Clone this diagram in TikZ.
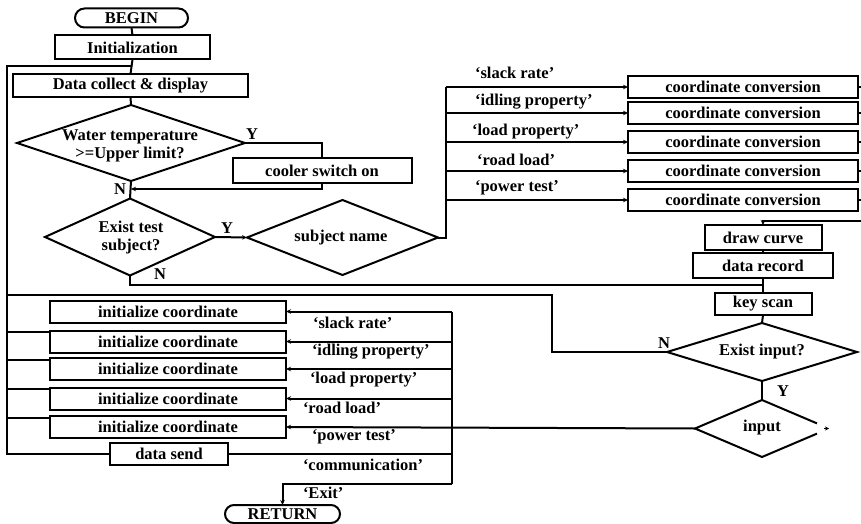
\documentclass[tikz,border=0pt]{standalone}
\usepackage{fontspec}
\setmainfont{Liberation Serif}
\usetikzlibrary{arrows.meta,shapes.geometric,shapes.misc,calc}
\begin{document}
\begin{tikzpicture}[x=1pt,y=-1pt,line width=2pt,
  every node/.style={font=\fontsize{16.5}{18}\selectfont\bfseries, inner sep=0pt, outer sep=0pt},
  box/.style={draw, rectangle},
  term/.style={draw, rounded rectangle, minimum height=19},
  dia/.style={diamond, draw, inner sep=0pt},
  lbl/.style={anchor=west},
  arr/.style={-{Stealth[length=5pt,width=4.5pt]}},
]
\useasboundingbox (0,0) rectangle (861,524);

% main column
\node[term, minimum width=113] (begin) at (131.5,18) {BEGIN};
\node[box, minimum width=155, minimum height=24] (init) at (132.5,47.5) {Initialization};
\node[box, minimum width=235, minimum height=23] (dc) at (130.5,85.5) {Data collect \& display};
\node[dia, minimum width=228, minimum height=76] (d1) at (131,143) {};
\node[align=center] (d1t) at (130,146) {Water temperature\\>=Upper limit?};
\node[box, minimum width=179, minimum height=25] (cool) at (322,170.5) {cooler switch on};
\node[dia, minimum width=170, minimum height=77] (d2) at (130,237) {};
\node[align=center] (d2t) at (131,238) {Exist test\\subject?};
\node[dia, minimum width=191, minimum height=75] (sn) at (342.5,237.5) {};
\node (snt) at (341,238) {subject name};

% coordinate conversion boxes
\foreach \i/\y in {1/87,2/113,3/142,4/171,5/200}{
  \node[box, minimum width=230, minimum height=22] (cc\i) at (743,\y) {coordinate conversion};
}
\node[lbl] (l1) at (475,73) {`slack rate'};
\node[lbl] (l2) at (475,102) {`idling property'};
\node[lbl] (l3) at (472,132) {`load property'};
\node[lbl] (l4) at (477,160) {`road load'};
\node[lbl] (l5) at (475,188) {`power test'};

\node[box, minimum width=117, minimum height=25] (dcurve) at (763,237.5) {draw curve};
\node[box, minimum width=140, minimum height=25] (drec) at (763,265.5) {data record};
\node[box, minimum width=97, minimum height=22] (kscan) at (763,304) {key scan};
\node[dia, minimum width=190, minimum height=58] (ei) at (762,352) {};
\node (eit) at (762,352) {Exist input?};
\node[diamond, minimum width=134, minimum height=57, inner sep=0pt] (inp) at (762,428.5) {};
\node (inpt) at (762,428) {input};

% initialize coordinate boxes
\foreach \i/\y in {1/311.5,2/341.5,3/369,4/398.5,5/427}{
  \node[box, minimum width=236, minimum height=22] (ic\i) at (168,\y) {initialize coordinate};
}
\node[box, minimum width=118, minimum height=22] (ds) at (169,454) {data send};
\node[term, minimum width=115, minimum height=18] (ret) at (282.5,514) {RETURN};

\node[lbl] (m1) at (313,323) {`slack rate'};
\node[lbl] (m2) at (312,352) {`idling property'};
\node[lbl] (m3) at (310,380) {`load property'};
\node[lbl] (m4) at (303,408) {`road load'};
\node[lbl] (m5) at (312,437) {`power test'};
\node[lbl] (m6) at (303,465) {`communication'};
\node[lbl] (m7) at (303,493) {`Exit'};

% Y / N labels
\node (y1) at (252,134) {Y};
\node (n1) at (120,189) {N};
\node (y2) at (227,228) {Y};
\node (n2) at (160,274) {N};
\node (n3) at (664,343) {N};
\node (y3) at (783,391) {Y};

% helper coordinates
\coordinate (j0) at (131,66);
\coordinate (lb) at (7,66);
\coordinate (j1) at (131,189);
\coordinate (busx) at (446,0);
\coordinate (rx) at (861,0);
\coordinate (rr) at (861,221);
\coordinate (jn) at (763,285);
\coordinate (lpA) at (552,295);
\coordinate (lpB) at (7,295);
\coordinate (rb) at (452,0);
\coordinate (rbot) at (452,484);

% connectors
\draw (begin.south) -- (init.north);
\draw (init.south) -- (dc.north);
\draw (ds.west) -| (lb) -- (j0);
\draw (dc.south) -- (d1.north);
\draw (d1.east) -| (cool.north);
\draw[arr] (cool.south) |- (j1);
\draw (d1.south) -- (d2.north);
\draw[arr] (d2.east) -- (sn.west);
\draw (sn.east) -| (cc1.west -| busx);
\foreach \i in {1,...,5}{
  \draw[arr] (cc\i.west -| busx) -- (cc\i.west);
  \draw (cc\i.east) -- (cc\i.east -| rx);
}
\draw[arr] (rr) -| (dcurve.north);
\draw (dcurve.south) -- (drec.north);
\draw (drec.south) -- (kscan.north);
\draw (d2.south) |- (jn);
\draw (kscan.south) -- (ei.north);
\draw (ei.west) -| (lpA) -- (lpB);
\draw (ei.south) -- (inp.north);
\draw ($(inp.north)!0.82!(inp.east)$) -- (inp.north) -- (inp.west) -- (inp.south) -- ($(inp.south)!0.82!(inp.east)$);
\draw[-{Stealth[length=4pt,width=4pt]}, line width=0.8pt] ($(inp.east)+(-5,0)$) -- (inp.east);

\foreach \i in {2,...,5}{
  \draw ([yshift=-1.5pt]ic\i.north west -| lb) -- ([yshift=-1.5pt]ic\i.north west);
}
\foreach \i in {1,...,4}{
  \draw[arr] (ic\i.east -| rb) -- (ic\i.east);
}
\draw[arr] (inp.west) -- (ic5.east);
\draw (ds.east) -- (ds.east -| rb);
\draw (ic1.east -| rb) -- (rbot);
\draw[arr] (rbot) -| (ret.north);
\end{tikzpicture}
\end{document}
